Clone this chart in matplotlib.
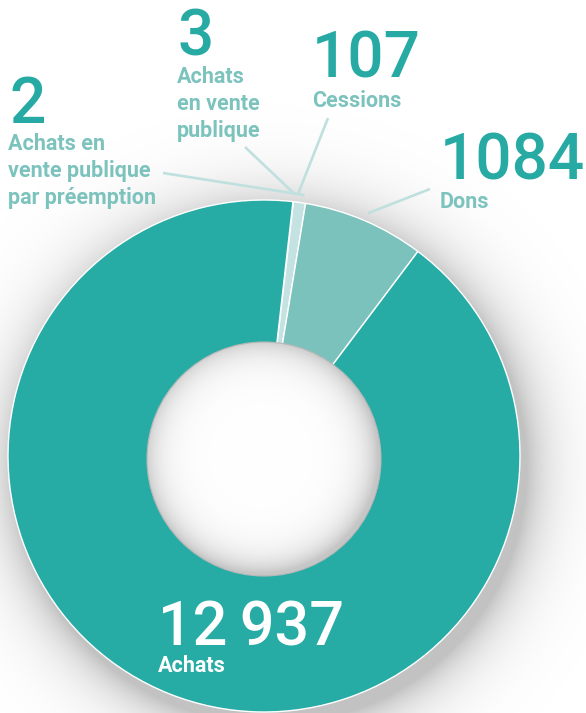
import matplotlib
matplotlib.use("Agg")
import matplotlib.pyplot as plt
import numpy as np
from matplotlib.patches import Circle

# Data
labels = ["Achats en\nvente publique\npar préemption", "Achats\nen vente\npublique",
          "Cessions", "Dons", "Achats"]
values = [2, 3, 107, 1084, 12937]
value_text = ["2", "3", "107", "1084", "12\u2009937"]
colors = ["#c4e2e1", "#c4e2e1", "#c4e2e1", "#7bc1bc", "#27aca5"]

TEAL = "#27aaa3"
LABEL = "#7cc3be"
LINE = "#bfe0de"
plt.rcParams['font.family'] = ['Roboto', 'DejaVu Sans']

W, H = 586, 713
cx, cy, R = 264, H - 456, 256
hole_c, hole_r = (264, H - 459), 117

fig = plt.figure(figsize=(W / 100, H / 100), dpi=100)
ax = fig.add_axes([0, 0, 1, 1])

# soft drop shadow behind the ring
xx, yy = np.meshgrid(np.arange(W) + 0.5, np.arange(H) + 0.5)
d = np.hypot(xx - (cx + 7), yy - (cy - 12)) - R
a = 0.24 * np.exp(-np.clip(d, 0, None) / 26.0)
shadow = np.zeros((H, W, 4))
shadow[..., 3] = a
ax.imshow(shadow, extent=(0, W, 0, H), origin="lower", zorder=0, interpolation="bilinear")

wedges, _ = ax.pie(values, colors=colors, startangle=83.5, counterclock=False,
                   center=(cx, cy), radius=R,
                   wedgeprops=dict(edgecolor="white", linewidth=1.0))
for w in wedges:
    w.set_zorder(2)

# hole with inner shading
e = hole_r - np.hypot(xx - (hole_c[0] - 3), yy - (hole_c[1] + 3))
g = 1 - 0.22 * np.exp(-np.clip(e, 0, None) / 16.0)
hole_img = np.dstack([g, g, g, np.ones_like(g)])
im = ax.imshow(hole_img, extent=(0, W, 0, H), origin="lower", zorder=3, interpolation="bilinear")
clip = Circle(hole_c, hole_r, transform=ax.transData)
im.set_clip_path(clip)
ax.add_patch(Circle(hole_c, hole_r, facecolor="none", edgecolor="#b8b8b8", linewidth=0.8, zorder=4))

# label layout (pixel coords from top): number x, number baseline, label baseline
num_pos = [(10, 123), (178, 55), (312, 78), (440, 179), (158, 645)]
lab_pos = [(8, 150), (177, 83), (312, 107), (440, 208), (158, 672)]
line_start = [(163, 173), (245, 147), (328, 118), (430, 189)]
angle_nudge = [-2.3, 0, 0.6, 0]

for i, (lab, txt) in enumerate(zip(labels, value_text)):
    inner = i == len(labels) - 1
    ncol = "white" if inner else TEAL
    lcol = "white" if inner else LABEL
    nx, ny = num_pos[i]
    ax.text(nx, H - ny, txt, fontsize=46 if not inner else 44, color=ncol,
            fontweight="medium", va="baseline", ha="left", zorder=5)
    lx, ly = lab_pos[i]
    for k, line in enumerate(lab.split("\n")):
        ax.text(lx, H - (ly + 26.8 * k), line, fontsize=15.5, color=lcol,
                fontweight="bold", va="baseline", ha="left", zorder=5)

# leader lines toward the wedge middles
for i in range(4):
    w = wedges[i]
    mid = np.deg2rad((w.theta1 + w.theta2) / 2 + angle_nudge[i])
    ex, ey = cx + (R + 8) * np.cos(mid), cy + (R + 8) * np.sin(mid)
    sx, sy = line_start[i]
    ax.plot([sx, ex], [H - sy, ey], color=LINE, linewidth=1.9,
            solid_capstyle="butt", zorder=5)

ax.set_xlim(0, W)
ax.set_ylim(0, H)
ax.set_aspect("auto")
ax.axis("off")
fig.savefig("out.png", dpi=100)
